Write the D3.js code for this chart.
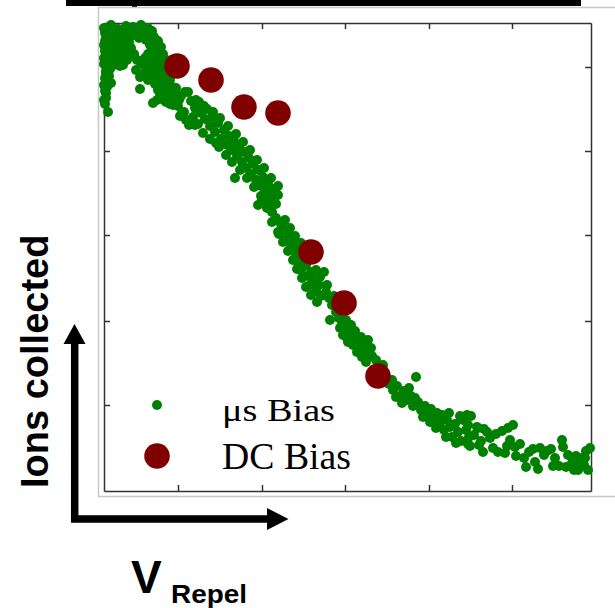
<!DOCTYPE html>
<html>
<head>
<meta charset="utf-8">
<script src="https://cdn.jsdelivr.net/npm/d3@7"></script>
<style>
  body { margin: 0; background: #fff; }
  .axis .domain, .axis .tick line { stroke: #333; stroke-width: 1.5; }
</style>
</head>
<body>
<svg id="chart"></svg>
<script>
// Tick positions read off the frame (no labels in the original)
const xTicks = [7.4, 15.8, 24.1, 32.5, 40.8];
const yTicks = [8.6, 17.0, 25.6, 34.0, 42.4];

// Legend entries
const seriesNames = ["\u03bcs Bias", "DC Bias"];

// DC bias measurements
const dcBias = [
  [7.3, 42.5], [10.7, 41.1], [14.0, 38.4], [17.4, 37.8],
  [20.7, 23.9], [24.0, 18.8], [27.4, 11.5]
];

// Microsecond pulsed bias measurements
const usBias = [
  // plateau
  [0.0, 46.3], [0.7, 46.6], [1.4, 46.2], [2.2, 46.5], [2.9, 46.4], [3.7, 46.6], [4.4, 46.3],
  [0.2, 45.7], [0.9, 45.7], [1.6, 45.7], [2.3, 45.7], [3.0, 45.7], [3.8, 45.7], [4.5, 45.7],
  [0.1, 45.8], [0.5, 46.0], [1.2, 45.9], [1.9, 46.1], [2.6, 45.8], [3.3, 46.0], [4.1, 45.7], [4.8, 46.0],
  [0.2, 45.3], [0.6, 45.5], [1.3, 45.2], [2.0, 45.4], [2.7, 45.5], [3.5, 45.3], [4.2, 45.1], [5.0, 45.4],
  [0.1, 45.0], [0.8, 45.0], [1.5, 45.0], [2.2, 45.0], [4.8, 45.0], [5.4, 45.0],
  [0.0, 44.6], [0.4, 44.8], [1.1, 44.5], [1.8, 44.7], [2.5, 44.9], [4.6, 44.6], [5.3, 44.8],
  [0.1, 44.4], [0.8, 44.4], [1.5, 44.4], [2.3, 44.4], [5.1, 44.4], [5.7, 44.4],
  [0.1, 44.0], [0.5, 44.2], [1.2, 43.9], [2.0, 44.1], [2.7, 44.3], [4.8, 44.0], [5.5, 44.2],
  [0.2, 43.7], [0.9, 43.7], [1.6, 43.7], [2.4, 43.7], [3.0, 43.7], [4.4, 43.7], [5.2, 43.7], [5.9, 43.7],
  [0.0, 43.3], [0.7, 43.5], [1.5, 43.2], [2.3, 43.4], [3.0, 43.6], [4.1, 43.3], [4.8, 43.5], [5.6, 43.2],
  [0.1, 43.1], [0.8, 43.1], [1.5, 43.1], [2.3, 43.1], [3.3, 43.1], [4.0, 43.1], [4.8, 43.1], [5.5, 43.1], [6.2, 43.1],
  [0.0, 42.7], [0.4, 42.9], [1.1, 42.8], [1.9, 42.6], [3.7, 42.8], [4.4, 42.6], [5.2, 42.9], [5.9, 42.7],
  [0.2, 42.5], [0.8, 42.5], [1.6, 42.5], [4.1, 42.5], [4.8, 42.5], [5.5, 42.5], [6.2, 42.5],
  [0.2, 42.0], [0.6, 42.2], [3.2, 42.1], [4.5, 42.0], [5.2, 42.3], [5.9, 41.9],
  [0.2, 41.8], [4.1, 41.8], [4.8, 41.8], [5.6, 41.8], [6.3, 41.8],
  [0.1, 41.3], [0.5, 41.5], [3.6, 41.4], [4.8, 41.2], [5.5, 41.5], [6.2, 41.3],
  [0.2, 41.1], [4.4, 41.1], [5.2, 41.1], [5.9, 41.1], [6.6, 41.1],
  [0.0, 40.6], [0.7, 40.8], [5.1, 40.7], [5.8, 40.5], [6.5, 40.8],
  [0.3, 40.4], [5.4, 40.4], [6.1, 40.4], [6.8, 40.4],
  [0.1, 40.0], [3.6, 40.2], [5.4, 40.1], [6.1, 39.9], [6.8, 40.2],
  [0.2, 39.8], [5.6, 39.8], [6.4, 39.8], [7.1, 39.8],
  [0.2, 39.3], [5.7, 39.5], [6.4, 39.2], [7.2, 39.4],
  [0.0, 39.1], [5.3, 39.1], [6.0, 39.1], [6.7, 39.1], [7.5, 39.1],
  [0.1, 38.7], [4.9, 38.8], [6.2, 38.9], [6.9, 38.6],
  [0.4, 37.9],
  // upper slope
  [6.6, 38.7], [7.0, 39.5], [7.2, 40.3], [7.7, 39.5], [7.4, 38.5], [8.0, 37.9], [8.4, 39.9],
  [8.7, 39.0], [8.2, 37.1], [9.1, 38.3], [8.9, 37.4], [9.5, 38.9], [9.7, 37.8], [9.4, 36.7],
  [10.1, 37.2], [10.3, 38.2], [10.6, 36.5], [10.8, 37.4], [11.1, 35.9], [11.4, 36.8], [11.2, 34.8],
  [11.7, 35.2], [12.0, 36.1], [12.3, 34.6], [12.5, 35.5], [12.8, 34.1], [13.0, 35.0], [13.3, 33.5],
  [13.5, 34.4], [13.8, 32.9], [14.0, 33.9], [14.2, 32.3], [14.5, 33.3], [14.7, 31.7], [14.9, 32.7],
  [13.1, 31.3], [15.2, 31.1], [15.4, 32.1], [15.7, 30.5], [15.9, 31.4], [16.2, 29.9], [16.4, 30.8],
  [16.7, 29.3], [16.9, 30.2], [17.2, 28.7], [17.4, 29.6], [7.6, 37.5], [8.5, 36.6],
  [7.8, 37.8], [9.1, 36.6], [9.9, 35.8], [10.6, 35.2], [11.5, 34.4], [12.2, 33.6], [12.8, 32.9],
  [13.6, 32.1], [14.3, 31.3], [15.0, 30.4], [15.7, 29.5], [16.4, 28.6],
  [8.1, 39.9], [9.2, 39.1], [10.0, 38.5], [10.9, 37.9], [11.6, 37.3], [12.4, 36.5], [13.2, 35.7],
  [13.9, 34.9], [14.6, 34.1], [15.3, 33.1], [16.0, 32.3], [16.7, 31.3], [17.4, 30.5],
  // middle
  [15.4, 28.6], [15.8, 29.1], [16.3, 28.3], [16.8, 27.9], [17.2, 27.3], [17.7, 26.7], [17.5, 25.7],
  [18.0, 26.1], [18.2, 25.1], [18.5, 25.5], [18.7, 24.4], [19.0, 24.8], [19.2, 23.8], [19.5, 24.2],
  [19.4, 22.9], [19.9, 23.3], [19.7, 22.1], [20.2, 22.6], [20.4, 21.5], [20.7, 21.9], [20.6, 20.6],
  [21.0, 21.1], [21.2, 20.0], [21.5, 20.6], [21.7, 19.5], [22.0, 21.9], [22.2, 19.9], [22.5, 19.3],
  [22.8, 18.6], [22.6, 17.1], [23.2, 17.9], [23.5, 17.3], [23.8, 16.7], [24.2, 17.1], [24.0, 15.9],
  [24.5, 16.3], [24.8, 15.5], [25.1, 16.0], [25.3, 14.9], [25.7, 15.4], [26.0, 14.7], [26.4, 15.1],
  [26.7, 14.3], [26.2, 13.9],
  [16.8, 26.9], [17.4, 25.9], [17.9, 24.9], [18.4, 24.0], [18.9, 23.1], [19.3, 22.2], [19.8, 21.3],
  [20.2, 20.4], [20.7, 19.6], [21.3, 18.9],
  [18.1, 27.1], [18.6, 26.3], [19.1, 25.5], [19.7, 24.8], [21.2, 22.1], [21.6, 21.4], [22.3, 20.6],
  [23.0, 19.5], [23.6, 16.3], [24.3, 15.3], [25.6, 14.5], [24.7, 16.6],
  // lower slope
  [23.9, 15.6], [24.4, 14.9], [24.9, 14.6], [25.3, 13.9], [25.8, 13.4], [26.2, 12.9], [26.8, 13.5],
  [27.2, 13.1], [27.9, 12.6], [28.5, 10.7], [28.9, 10.1], [29.3, 10.5], [29.6, 9.5], [30.0, 10.0],
  [30.3, 9.1], [30.7, 9.5], [30.9, 8.5], [31.2, 11.4], [31.4, 8.9], [31.7, 8.1], [32.1, 8.5],
  [32.4, 7.7], [32.7, 8.2], [33.0, 7.3], [33.3, 7.8], [33.6, 6.8], [33.8, 7.6], [34.0, 6.1],
  [34.3, 7.1], [34.6, 6.4], [34.8, 5.4], [35.1, 6.7], [35.4, 5.9], [35.7, 5.0], [35.9, 7.1],
  [36.2, 6.1], [36.4, 4.7], [36.7, 7.5], [37.0, 5.6], [37.3, 6.4], [37.5, 4.6],
  [28.2, 11.3], [28.8, 11.1], [29.2, 9.4], [29.8, 8.8], [30.5, 10.3], [31.1, 9.3], [31.9, 7.4],
  [32.6, 6.9], [33.2, 6.3], [34.2, 5.4], [35.2, 4.8], [34.5, 7.8], [35.6, 7.5],
  // tail
  [36.3, 7.6], [36.4, 6.6], [36.5, 5.4], [36.6, 4.5], [37.4, 6.3], [38.0, 6.2], [37.7, 5.0],
  [37.9, 3.9], [38.6, 5.3], [39.2, 5.7], [39.8, 6.0], [40.4, 6.3], [40.9, 6.6], [39.4, 3.9],
  [40.1, 3.8], [40.3, 4.5], [41.1, 4.4], [41.6, 4.7], [41.2, 3.5], [42.0, 3.3], [42.2, 2.4],
  [42.9, 4.2], [43.6, 4.3], [44.3, 4.0], [44.7, 4.2], [43.1, 2.9], [43.4, 2.2], [45.1, 3.3],
  [45.5, 2.5], [45.8, 5.1], [45.9, 4.4], [46.4, 3.6], [46.8, 2.8], [47.2, 3.5], [47.4, 2.1],
  [48.0, 2.6], [48.2, 4.0], [48.6, 4.3], [47.8, 3.3], [47.0, 2.1],
  [38.3, 5.9], [38.9, 4.3], [40.6, 5.1], [42.5, 3.9], [44.0, 3.6], [44.9, 2.5], [46.2, 2.4],
  [47.6, 2.8], [48.4, 2.1], [48.1, 3.3]
];

// Set up chart dimensions
const margin = { top: 23, right: 24, bottom: 117, left: 104 };
const width = 615 - margin.left - margin.right;
const height = 608 - margin.top - margin.bottom;

const svgRoot = d3.select("#chart").attr("width", 615).attr("height", 608);

// Cropped title rule at the very top
svgRoot.append("rect").attr("x", 66).attr("y", 0).attr("width", 515).attr("height", 6).attr("fill", "#000");
svgRoot.append("rect").attr("x", 132).attr("y", 5).attr("width", 5).attr("height", 3).attr("fill", "#000");

// Figure border (light grey, runs off the right edge)
svgRoot.append("path")
  .attr("d", "M630,7.5H98.5V496.5H630")
  .attr("fill", "none")
  .attr("stroke", "#c8c8c8")
  .attr("stroke-width", 1.5);

const svg = svgRoot
  .append("g")
  .attr("transform", "translate(" + margin.left + "," + margin.top + ")");

// Scales
const xScale = d3.scaleLinear().domain([0, 48.7]).range([0, width]);
const yScale = d3.scaleLinear().domain([0, 46.8]).range([height, 0]);

// Boxed axes with inward ticks on all four sides
function styleAxis(g) {
  g.attr("class", "axis");
  g.selectAll("text").remove();
}
svg.append("g").attr("transform", "translate(0," + height + ")")
  .call(d3.axisBottom(xScale).tickValues(xTicks).tickSize(-6).tickSizeOuter(0)).call(styleAxis);
svg.append("g")
  .call(d3.axisTop(xScale).tickValues(xTicks).tickSize(-6).tickSizeOuter(0)).call(styleAxis);
svg.append("g")
  .call(d3.axisLeft(yScale).tickValues(yTicks).tickSize(-6).tickSizeOuter(0)).call(styleAxis);
svg.append("g").attr("transform", "translate(" + width + ",0)")
  .call(d3.axisRight(yScale).tickValues(yTicks).tickSize(-6).tickSizeOuter(0)).call(styleAxis);

// Add green dots
svg.selectAll(".us")
  .data(usBias)
  .enter()
  .append("circle")
  .attr("class", "us")
  .attr("cx", (d) => xScale(d[0]))
  .attr("cy", (d) => yScale(d[1]))
  .attr("r", 5)
  .style("fill", "#008000");

// Add dark red dots
svg.selectAll(".dc")
  .data(dcBias)
  .enter()
  .append("circle")
  .attr("class", "dc")
  .attr("cx", (d) => xScale(d[0]))
  .attr("cy", (d) => yScale(d[1]))
  .attr("r", 12.8)
  .style("fill", "#800000");

// Add legend
const legend = svg
  .selectAll(".legend")
  .data(seriesNames)
  .enter()
  .append("g")
  .attr("class", "legend")
  .attr("transform", (d, i) => "translate(0," + (382 + i * 51) + ")");

legend
  .append("circle")
  .attr("cx", 53)
  .attr("r", (d, i) => (i === 0 ? 5 : 12.8))
  .style("fill", (d, i) => (i === 0 ? "#008000" : "#800000"));

legend
  .append("text")
  .attr("x", 118)
  .attr("y", (d, i) => (i === 0 ? 16 : 13))
  .attr("font-family", "'Liberation Serif', 'Times New Roman', serif")
  .attr("font-size", (d, i) => (i === 0 ? 31 : 38))
  .attr("textLength", (d, i) => (i === 0 ? 113 : 129))
  .attr("lengthAdjust", "spacingAndGlyphs")
  .text((d) => d);

// Axis arrows
svgRoot.append("path")
  .attr("d", "M74.7,342V519H269")
  .attr("fill", "none")
  .attr("stroke", "#000")
  .attr("stroke-width", 7.5)
  .attr("stroke-linejoin", "miter");
svgRoot.append("path").attr("d", "M74.5,324L63.5,344H85.5Z").attr("fill", "#000");
svgRoot.append("path").attr("d", "M288.5,519L267,508V530Z").attr("fill", "#000");

// Axis titles
svgRoot.append("text")
  .attr("transform", "translate(48,488) rotate(-90)")
  .attr("font-family", "'Liberation Sans', Arial, sans-serif")
  .attr("font-weight", "bold")
  .attr("font-size", 38)
  .text("Ions collected");

svgRoot.append("text")
  .attr("x", 131)
  .attr("y", 593)
  .attr("font-family", "'Liberation Sans', Arial, sans-serif")
  .attr("font-weight", "bold")
  .attr("font-size", 46)
  .text("V");

svgRoot.append("text")
  .attr("x", 171)
  .attr("y", 603)
  .attr("font-family", "'Liberation Sans', Arial, sans-serif")
  .attr("font-weight", "bold")
  .attr("font-size", 26)
  .attr("textLength", 76)
  .attr("lengthAdjust", "spacingAndGlyphs")
  .text("Repel");
</script>
</body>
</html>
